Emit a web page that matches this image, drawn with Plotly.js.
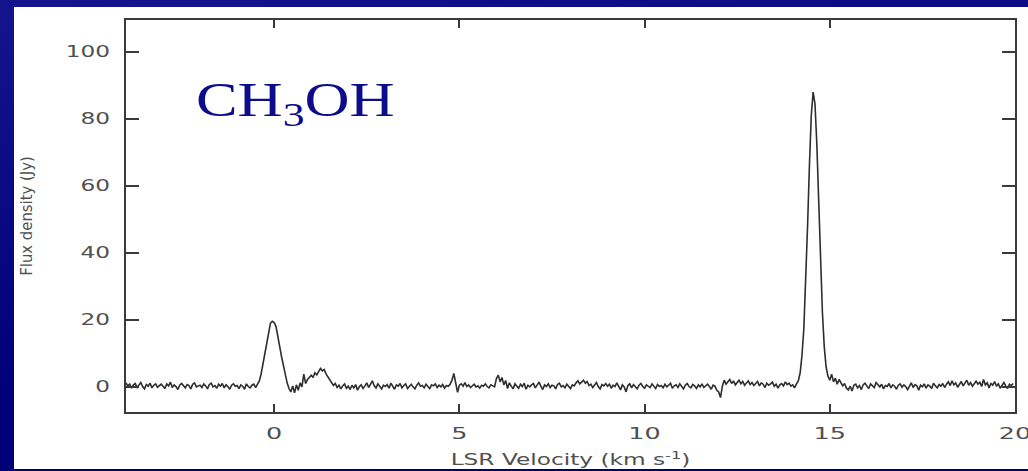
<!DOCTYPE html>
<html>
<head>
<meta charset="utf-8">
<script src="https://cdn.plot.ly/plotly-3.0.1.min.js"></script>
<style>
  html, body { margin: 0; padding: 0; width: 1028px; height: 471px; overflow: hidden; }
  body { background: linear-gradient(170deg, #14148c 0%, #00007a 60%, #000074 100%); position: relative; }
  #chart { position: absolute; left: 14px; top: 7px; width: 1014px; height: 462px; background: #ffffff; }
</style>
</head>
<body>
<div id="chart"></div>
<script>
// Spectrum: first channel velocity and channel width (km/s)
const velocityStart = -4.0;
const channelWidth = 0.05;

// Flux density (Jy), one row per 1 km/s (20 channels each)
const fluxDensity = [
  // -4 .. -3
  1.2, 0.3, 0.8, -0.4, 0.6, 1.0, -0.2, 0.4, 1.3, 0.1, -0.6, 0.7, 0.2, 1.1, -0.3, 0.5, 0.9, -0.1, 0.4, 0.8,
  // -3 .. -2
  0.2, -0.5, 0.9, 0.3, 1.4, -0.2, 0.6, 0.1, -0.8, 0.5, 1.0, 0.2, -0.3, 0.7, 0.4, -0.6, 0.8, 1.2, 0.0, 0.3,
  // -2 .. -1
  0.5, -0.2, 0.9, 0.3, -0.6, 0.7, 1.1, 0.0, 0.4, -0.4, 0.8, 0.2, 1.0, -0.3, 0.6, 0.1, -0.7, 0.5, 0.9, 0.2,
  // -1 .. 0
  0.4, -0.5, 0.6, 0.2, -0.7, 0.9, 0.1, -0.3, 0.5, 0.8, -0.2, 0.8, 1.8, 4.0, 7.0, 10.5, 14.0, 17.0, 19.0, 19.6,
  // 0 .. 1
  19.2, 18.0, 15.5, 12.0, 9.0, 6.0, 3.5, 1.2, -0.5, -1.5, 0.3, -1.8, 0.6, -1.0, 1.2, 0.0, 3.8, 1.0, 2.2, 3.0,
  // 1 .. 2
  3.5, 2.8, 4.2, 3.6, 4.5, 5.5, 4.8, 5.2, 3.9, 3.0, 2.0, 1.2, 0.4, 1.0, -0.2, 0.5, -0.6, 0.3, 0.9, -0.4,
  // 2 .. 3
  0.2, -0.8, 0.5, -0.3, 0.7, -1.0, 0.1, 0.6, -0.5, 0.3, 1.2, -0.2, 0.8, 1.8, 0.4, -0.3, 0.9, 0.2, -0.6, 0.5,
  // 3 .. 4
  0.1, 0.7, -0.4, 1.1, 0.3, -0.7, 0.6, 0.2, 1.0, -0.3, 0.4, 0.9, -0.5, 0.3, 0.8, 0.0, -0.6, 0.5, 1.2, 0.2,
  // 4 .. 5
  0.4, -0.3, 0.8, 0.1, -0.5, 0.6, 0.3, 0.9, -0.2, 0.5, 0.0, 0.7, -0.4, 0.4, 0.2, 0.8, 2.0, 4.0, 1.0, -1.6,
  // 5 .. 6
  0.5, 0.9, 0.2, 1.3, 0.1, 0.6, -0.2, 0.4, 0.8, 0.0, 0.3, -0.4, 0.5, 0.2, 0.9, 0.1, -0.3, 0.6, 0.4, 0.0,
  // 6 .. 7
  2.5, 3.5, 1.5, 2.8, 0.6, 1.9, -0.5, 1.2, 0.2, -0.6, 0.9, 0.3, -0.4, 0.8, 0.1, 1.1, -0.7, 0.5, 0.0, 0.6,
  // 7 .. 8
  1.0, -0.3, 0.4, 1.4, 0.2, -0.8, 0.6, 0.1, 0.9, -0.2, 0.5, 0.3, -0.6, 0.7, 1.1, 0.0, 0.4, -0.3, 0.8, 0.2,
  // 8 .. 9
  -0.5, 0.6, 0.3, 1.2, 1.8, 0.9, 1.5, 2.0, 1.1, 1.6, 0.4, 0.8, -0.2, 0.5, 1.3, 0.1, -0.6, 0.7, 0.3, 1.0,
  // 9 .. 10
  0.2, 0.8, -0.4, 0.5, 0.1, 1.2, 0.3, -0.9, 0.6, 0.0, -1.5, 0.4, 0.9, -0.3, 0.7, 0.2, -0.6, 0.5, 1.0, 0.1,
  // 10 .. 11
  -0.4, 0.6, 0.2, -0.2, 0.9, 0.3, -0.5, 0.7, 0.1, 0.4, -0.3, 0.8, 0.0, 0.5, 1.1, -0.4, 0.3, 0.6, -0.2, 0.9,
  // 11 .. 12
  0.2, -0.6, 0.5, 1.0, 0.1, -0.3, 0.7, 0.3, -0.5, 0.6, 0.0, 0.9, -0.2, 0.4, 0.8, 0.1, -0.7, 0.5, 0.2, -1.0,
  // 12 .. 13
  -1.5, -3.2, 0.2, 2.0, 0.8, 1.5, 2.2, 1.0, 1.8, 0.6, 1.4, 2.0, 0.9, 1.6, 0.5, 1.2, 1.8, 0.7, 1.3, 0.4,
  // 13 .. 14
  1.0, 1.6, 0.3, 1.2, 0.8, -0.2, 1.1, 0.5, 0.9, 1.4, 0.2, 0.8, -0.4, 0.6, 1.0, 0.3, 1.5, 0.7, 1.1, 0.2,
  // 14 .. 15
  0.6, -0.3, 0.9, 1.8, 4.2, 9.5, 17.5, 30.5, 48.0, 66.0, 81.0, 88.0, 84.5, 72.5, 55.0, 37.5, 22.5, 12.0, 6.0, 3.2,
  // 15 .. 16
  2.0, 3.8, 1.5, 2.6, 0.8, 2.2, 1.4, 0.3, 1.0, -0.4, -0.9, 0.2, -1.2, 0.5, 0.8, -0.3, 0.4, -0.8, 0.6, 1.1,
  // 16 .. 17
  0.3, -0.5, 0.9, 0.2, -0.2, 1.3, 0.5, 0.0, 0.8, -0.6, 0.4, 0.1, 1.0, -0.3, 0.6, 0.2, -0.7, 0.5, 0.9, -0.1,
  // 17 .. 18
  0.6, 0.1, -0.8, 0.4, 1.2, -0.2, 0.7, 0.3, -1.0, 0.5, 0.0, 0.9, -0.4, 0.6, 0.2, -0.5, 1.1, 0.3, -0.3, 0.7,
  // 18 .. 19
  0.2, 1.0, -0.2, 0.8, 1.5, 0.4, 1.8, 0.6, 1.2, -0.1, 0.9, 1.6, 0.3, 1.1, 2.0, 0.5, 1.3, 0.2, 0.9, 1.7,
  // 19 .. 20
  0.8, 1.4, 0.1, 2.2, 0.6, 1.2, -0.3, 1.0, 0.5, 1.6, 0.2, 0.9, -0.4, 0.7, 1.3, 0.3, -0.5, 0.8, 0.4, 1.0
];

const xTickValues = [0, 5, 10, 15, 20];
const yTickValues = [0, 20, 40, 60, 80, 100];
const xAxisTitle = 'LSR Velocity (km s<sup>-1</sup>)';
const yAxisTitle = 'Flux density (Jy)';
const moleculeLabel = 'CH<sub>3</sub>OH';

const trace = {
  type: 'scatter',
  mode: 'lines',
  x0: velocityStart,
  dx: channelWidth,
  y: fluxDensity,
  line: { color: '#2e2e2e', width: 1.6 },
  hoverinfo: 'skip'
};

const tickFont = { family: 'DejaVu Sans, Verdana, sans-serif', size: 15, color: '#505050' };

const layout = {
  width: 1014,
  height: 462,
  paper_bgcolor: '#ffffff',
  plot_bgcolor: '#ffffff',
  showlegend: false,
  margin: { l: 112, r: 13, t: 13, b: 57 },
  xaxis: {
    range: [-4, 20],
    tickvals: xTickValues,
    ticks: 'inside',
    ticklen: 8,
    tickwidth: 2,
    tickcolor: '#3a3a3a',
    showline: true,
    linecolor: '#3a3a3a',
    linewidth: 2,
    mirror: 'ticks',
    showgrid: false,
    zeroline: false,
    tickfont: tickFont,
    ticklabelstandoff: 7,
    title: { text: xAxisTitle, font: { family: 'DejaVu Sans, Verdana, sans-serif', size: 15, color: '#505050' }, standoff: 14 }
  },
  yaxis: {
    range: [-7.5, 109.5],
    tickvals: yTickValues,
    ticks: 'inside',
    ticklen: 13,
    tickwidth: 2,
    tickcolor: '#3a3a3a',
    showline: true,
    linecolor: '#3a3a3a',
    linewidth: 2,
    mirror: 'ticks',
    showgrid: false,
    zeroline: false,
    tickfont: tickFont,
    ticklabelstandoff: 11,
    title: { text: yAxisTitle, font: { family: 'DejaVu Sans Condensed, Liberation Sans, Arial, sans-serif', size: 16.5, color: '#505050' }, standoff: 45 }
  },
  annotations: [{
    text: moleculeLabel,
    xref: 'x', yref: 'y',
    x: -2.16, y: 84.6,
    xanchor: 'left', yanchor: 'middle',
    showarrow: false,
    font: { family: 'Liberation Serif, Times New Roman, serif', size: 48, color: '#0c0c8c' }
  }]
};

// widen text horizontally about an anchor point (the reference glyphs are stretched)
function stretchText(selector, sx, anchor) {
  document.querySelectorAll(selector).forEach(function (el) {
    const bb = el.getBBox();
    const cx = anchor === 'end' ? bb.x + bb.width : (anchor === 'start' ? bb.x : bb.x + bb.width / 2);
    const t = el.getAttribute('transform') || '';
    el.setAttribute('transform', t + ' translate(' + cx + ',0) scale(' + sx + ',1) translate(' + (-cx) + ',0)');
  });
}

Plotly.newPlot('chart', [trace], layout, { staticPlot: true, displayModeBar: false }).then(function () {
  stretchText('.ytick text', 1.55, 'end');
  stretchText('.xtick text', 1.7, 'middle');
  stretchText('.xtitle', 1.55, 'middle');
  stretchText('.annotation-text', 1.3, 'start');
});
</script>
</body>
</html>
